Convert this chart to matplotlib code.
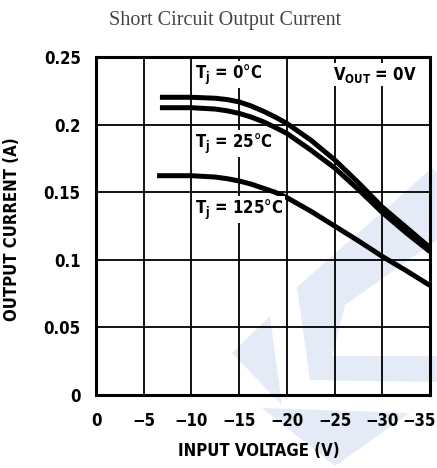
import matplotlib
matplotlib.use("Agg")
import matplotlib.pyplot as plt
from matplotlib.patches import Polygon
from matplotlib.transforms import ScaledTranslation

# data
v_0c = [-6.7, -10, -12.5, -13.75, -15, -16.25, -17.5, -18.75, -20, -22.5, -25, -27.5, -30, -32.5, -35]
i_0c = [0.2202, 0.2202, 0.2195, 0.2185, 0.2168, 0.2138, 0.210, 0.2057, 0.2009, 0.1886, 0.174, 0.157, 0.139, 0.124, 0.109]
v_25c = [-6.7, -10, -12.5, -13.75, -15, -16.25, -17.5, -18.75, -20, -22.5, -25, -27.5, -30, -32.5, -35]
i_25c = [0.2125, 0.2125, 0.2115, 0.2102, 0.2083, 0.2056, 0.2022, 0.198, 0.1935, 0.1812, 0.168, 0.152, 0.135, 0.120, 0.106]
v_125c = [-6.4, -10, -12.5, -13.75, -15, -16.25, -17.5, -18.75, -20, -22.5, -25, -27.5, -30, -32.5, -35]
i_125c = [0.1622, 0.1622, 0.1612, 0.160, 0.1583, 0.156, 0.153, 0.150, 0.146, 0.136, 0.125, 0.114, 0.1025, 0.092, 0.081]

x_ticks = [0, -5, -10, -15, -20, -25, -30, -35]
y_ticks = [0, 0.05, 0.1, 0.15, 0.2, 0.25]
y_ticklabels = ["0", "0.05", "0.1", "0.15", "0.2", "0.25"]

plt.rcParams['font.family'] = ['DejaVu Sans']
plt.rcParams['font.stretch'] = 'condensed'

W, H = 437, 468
fig = plt.figure(figsize=(W / 100, H / 100), dpi=100)

# faint watermark in the background
wm = "#e5ebf6"
shapes = [
    [(232, 353), (270, 316), (282, 405)],
    [(262, 408), (410, 413), (335, 466)],
    [(297, 287), (432, 168), (437, 172), (437, 240), (345, 305), (332, 356),
     (437, 356), (437, 382), (310, 380)],
]
for s in shapes:
    fig.patches.append(Polygon([(x / W, 1 - y / H) for x, y in s], closed=True,
                               transform=fig.transFigure, facecolor=wm,
                               edgecolor="none", zorder=0))

ax = fig.add_axes([96 / W, 1 - 395 / H, (430 - 96) / W, (395 - 57) / H])
ax.set_zorder(2)
ax.patch.set_alpha(0)

for v, i in [(v_0c, i_0c), (v_25c, i_25c), (v_125c, i_125c)]:
    ax.plot(v, i, color="black", lw=3.6, solid_capstyle="butt",
            solid_joinstyle="round")

ax.set_xlim(0, -35)
ax.set_ylim(0, 0.25)
ax.set_xticks(x_ticks)
ax.set_xticklabels(["0"] + ["\u2212%d" % abs(t) for t in x_ticks[1:]])
ax.set_yticks(y_ticks)
ax.set_yticklabels(y_ticklabels)
ax.tick_params(length=0, labelsize=12)
ax.tick_params(axis="x", pad=12)
ax.tick_params(axis="y", pad=11)
for lab in ax.get_xticklabels() + ax.get_yticklabels():
    lab.set_fontweight("bold")
# last x label sits a little left so it stays inside the picture
last = ax.get_xticklabels()[-1]
last.set_transform(last.get_transform() + ScaledTranslation(-11 / 100, 0, fig.dpi_scale_trans))
ax.grid(True, color="black", lw=1.3)
for sp in ax.spines.values():
    sp.set_linewidth(2.2)

ax.set_xlabel("INPUT VOLTAGE (V)", fontsize=12, fontweight="bold")
ax.set_ylabel("OUTPUT CURRENT (A)", fontsize=12, fontweight="bold")
ax.xaxis.set_label_coords(0.488, -0.14)
ax.yaxis.set_label_coords(-0.225, 0.49)

kw = dict(fontsize=12, fontweight="bold", va="center", ha="left",
          bbox=dict(facecolor="white", edgecolor="none", pad=1))
ax.text(-10.4, 0.237, r"T$_\mathbf{j}$ = 0°C", **kw)
ax.text(-10.4, 0.186, r"T$_\mathbf{j}$ = 25°C", **kw)
ax.text(-10.4, 0.137, r"T$_\mathbf{j}$ = 125°C", **kw)
ax.text(-24.8, 0.237, r"V$_\mathbf{OUT}$ = 0V", **kw)

fig.text(0.515, 1 - 20 / H, "Short Circuit Output Current", family="Liberation Serif",
         fontsize=14.5, color="#444444", ha="center", va="center")

fig.savefig("out.png", dpi=100)
